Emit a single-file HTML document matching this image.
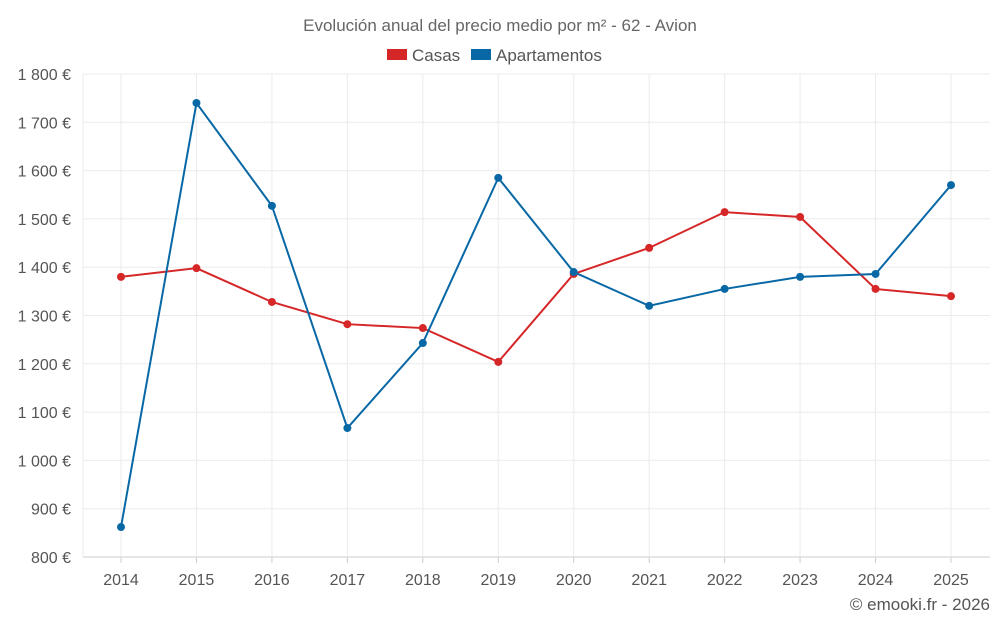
<!DOCTYPE html>
<html><head><meta charset="utf-8"><style>
body{margin:0;background:#fff;font-family:"Liberation Sans",sans-serif;}
svg text{font-family:"Liberation Sans",sans-serif;}
</style></head><body>
<svg id="chart" width="1000" height="625">
<text x="500" y="31" text-anchor="middle" font-size="17" fill="#666">Evolución anual del precio medio por m² - 62 - Avion</text>
<g>
<rect x="387" y="49" width="20" height="11" fill="#d62728"/>
<text x="412" y="61" font-size="17" fill="#555">Casas</text>
<rect x="471" y="49" width="20" height="11" fill="#0868a6"/>
<text x="496" y="61" font-size="17" fill="#555">Apartamentos</text>
</g>
<g id="grid"></g><g id="axes"></g><g id="series"></g>
<text x="990" y="610" text-anchor="end" font-size="17" fill="#555">© emooki.fr - 2026</text>
</svg>
<script>
const years=[2014,2015,2016,2017,2018,2019,2020,2021,2022,2023,2024,2025];
const casas=[1380,1398,1328,1282,1274,1204,1386,1440,1514,1504,1355,1340];
const apartamentos=[862,1740,1527,1067,1243,1585,1390,1320,1355,1380,1386,1570];
const yTicks=[800,900,1000,1100,1200,1300,1400,1500,1600,1700,1800];
const yTickLabels=["800 €","900 €","1 000 €","1 100 €","1 200 €","1 300 €","1 400 €","1 500 €","1 600 €","1 700 €","1 800 €"];
const NS="http://www.w3.org/2000/svg";
const L=83,R=990,T=74,B=557;
const x=i=>121+i*(951-121)/(years.length-1);
const y=v=>B-(v-800)/(1800-800)*(B-T);
function mk(tag,attrs,parent){const e=document.createElementNS(NS,tag);for(const k in attrs)e.setAttribute(k,attrs[k]);parent.appendChild(e);return e;}
const grid=document.getElementById('grid'),axes=document.getElementById('axes'),series=document.getElementById('series');
yTicks.forEach((t,i)=>{
 const l=mk('line',{x1:L,x2:R,y1:y(t),y2:y(t),stroke:i===0?'#ccc':'#ebebeb','stroke-width':1},grid);
 
 
 const tx=mk('text',{x:71,y:y(t)+6,'text-anchor':'end','font-size':16,fill:'#555'},axes);
 tx.textContent=yTickLabels[i];
 
 
});
years.forEach((yr,i)=>{
 const l=mk('line',{x1:x(i),x2:x(i),y1:T,y2:B,stroke:'#ebebeb','stroke-width':1},grid);
 
 
 const tk=mk('line',{x1:x(i),x2:x(i),y1:B,y2:B+6,stroke:'#ccc'},axes);
 
 
 const tx=mk('text',{x:x(i),y:585,'text-anchor':'middle','font-size':16,fill:'#555'},axes);
 tx.textContent=yr;
 
 
});
const yl=mk('line',{x1:L,x2:L,y1:T,y2:B,stroke:'#ebebeb'},grid);


function draw(vals,color,name){
 const p=mk('polyline',{points:vals.map((v,i)=>x(i)+','+y(v)).join(' '),fill:'none',stroke:color,'stroke-width':2},series);
 
 
 vals.forEach((v,i)=>{
  const c=mk('circle',{cx:x(i),cy:y(v),r:4,fill:color},series);
  
  
 });
}
draw(casas,'#d62728','casas');
draw(apartamentos,'#0868a6','apartamentos');
</script>
</body></html>
